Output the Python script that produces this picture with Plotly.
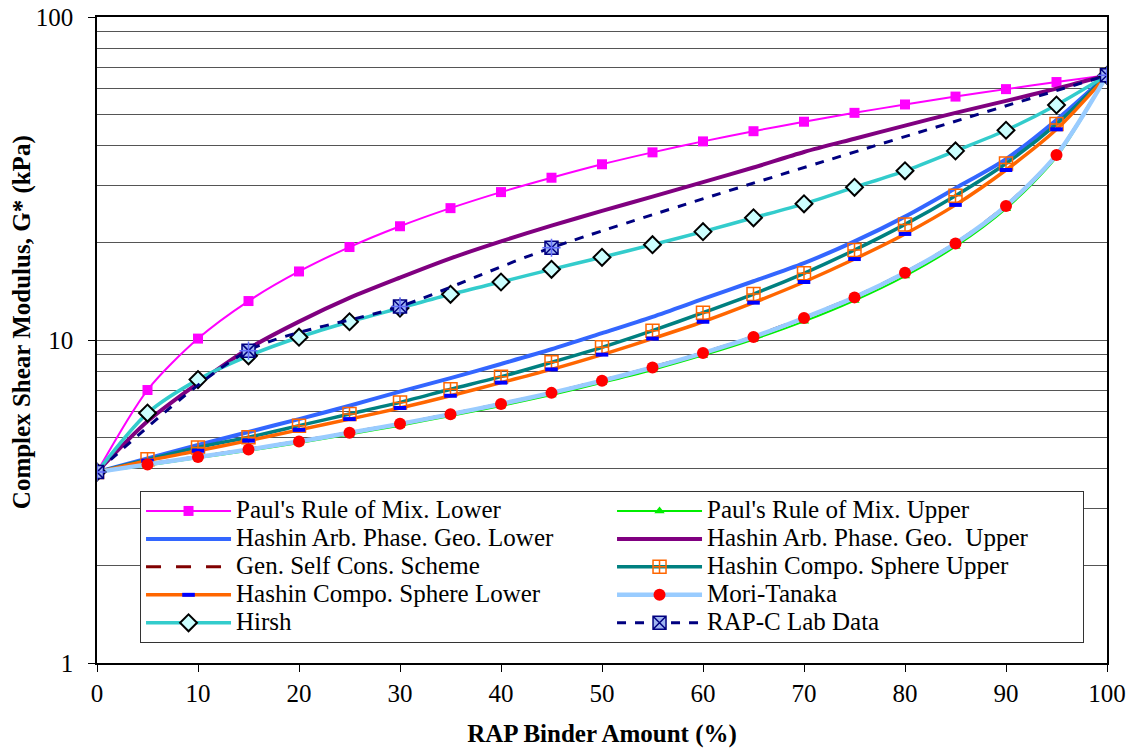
import plotly.graph_objects as go

# RAP binder content (%)
rap_pct = [0, 5, 10, 15, 20, 25, 30, 35, 40, 45, 50, 55, 60, 65, 70, 75, 80, 85, 90, 95, 100]

# Complex shear modulus G* (kPa) predicted by each micromechanical model
paul_lower = [3.9, 7.0, 10.1, 13.2, 16.3, 19.4, 22.5, 25.6, 28.7, 31.8, 35.0,
              38.1, 41.2, 44.3, 47.4, 50.5, 53.6, 56.7, 59.8, 62.9, 66.0]
paul_upper = [3.9, 4.09, 4.31, 4.54, 4.80, 5.10, 5.43, 5.82, 6.25, 6.76, 7.37,
              8.08, 8.96, 10.04, 11.42, 13.25, 15.77, 19.48, 25.5, 36.8, 66.0]
hashin_arb_lower = [3.9, 4.30, 4.73, 5.19, 5.69, 6.26, 6.92, 7.62, 8.43, 9.36, 10.5,
                    11.8, 13.4, 15.2, 17.3, 20.2, 24.1, 29.5, 36.3, 48.0, 66.0]
hashin_arb_upper = [3.9, 5.6, 7.35, 9.4, 11.4, 13.5, 15.6, 17.9, 20.2, 22.6, 25.1,
                    27.8, 30.8, 34.2, 38.2, 42.0, 46.1, 50.5, 55.0, 60.0, 66.0]
gen_self_cons = [3.9, 4.13, 4.35, 4.59, 4.86, 5.17, 5.51, 5.90, 6.35, 6.87, 7.50,
                 8.24, 9.13, 10.25, 11.73, 13.59, 16.2, 19.96, 26.1, 37.5, 66.0]
hashin_sphere_upper = [3.9, 4.27, 4.65, 5.00, 5.43, 5.90, 6.41, 7.04, 7.70, 8.53, 9.49,
                       10.69, 12.15, 13.88, 16.09, 18.99, 22.8, 27.98, 35.2, 46.6, 66.0]
hashin_sphere_lower = [3.9, 4.23, 4.54, 4.88, 5.27, 5.69, 6.16, 6.72, 7.38, 8.11, 9.01,
                       10.1, 11.39, 13.05, 15.12, 17.81, 21.3, 26.2, 33.6, 44.9, 66.0]
mori_tanaka = [3.9, 4.12, 4.34, 4.58, 4.85, 5.16, 5.50, 5.89, 6.34, 6.86, 7.48,
               8.22, 9.11, 10.22, 11.7, 13.55, 16.15, 19.9, 26.0, 37.4, 66.0]
hirsh = [3.9, 5.94, 7.54, 8.93, 10.2, 11.39, 12.56, 13.85, 15.12, 16.55, 18.03,
         19.73, 21.65, 23.9, 26.4, 29.7, 33.4, 38.5, 44.6, 53.4, 66.0]

# Laboratory measurements
lab_pct = [0, 15, 30, 45, 100]
lab_g = [3.9, 9.27, 12.7, 19.3, 66.0]

SERIF = "Liberation Serif, Times New Roman, Times, serif"
LEG = '<span style="font-size:25px">{}</span>'

fig = go.Figure()


def add(name, y, color, width, dash="solid", marker=None, x=rap_pct, showlegend=True):
    mode = "lines+markers" if marker else "lines"
    fig.add_trace(go.Scatter(
        x=x, y=y, name=LEG.format(name), mode=mode, showlegend=showlegend,
        line=dict(color=color, width=width, dash=dash, shape="spline", smoothing=0.8),
        marker=marker or {},
    ))


add("Paul's Rule of Mix. Lower", paul_lower, "#FF00FF", 2,
    marker=dict(symbol="square", size=10, color="#FF00FF"))
add("Paul's Rule of Mix. Upper", paul_upper, "#00EE00", 2,
    marker=dict(symbol="triangle-up", size=9, color="#00EE00"))
add("Hashin Arb. Phase. Geo. Lower", hashin_arb_lower, "#3366FF", 4)
add("Hashin Arb. Phase. Geo.  Upper", hashin_arb_upper, "#800080", 4)
add("Gen. Self Cons. Scheme", gen_self_cons, "#800000", 3, dash="longdash")
add("Hashin Compo. Sphere Upper", hashin_sphere_upper, "#008080", 3.5,
    marker=dict(symbol="square-cross-open", size=13, color="#FF6600",
                line=dict(width=1.5, color="#FF6600")))
add("Hashin Compo. Sphere Lower", hashin_sphere_lower, "#FF6600", 3.5,
    marker=dict(symbol="line-ew-open", size=9, color="#0000FF",
                line=dict(width=4, color="#0000FF")))
add("Mori-Tanaka", mori_tanaka, "#99CCFF", 4.5,
    marker=dict(symbol="circle", size=12, color="#FF0000"))
add("Hirsh", hirsh, "#33CCCC", 3.5,
    marker=dict(symbol="diamond", size=13, color="#CCFFFF",
                line=dict(width=2, color="#000000")))
add("RAP-C Lab Data", lab_g, "#000080", 3, dash="dash", x=lab_pct,
    marker=dict(symbol="square-x", size=13, color="#9FB4F0",
                line=dict(width=1.5, color="#000080")))
# inner cross of the lab-data symbol
fig.add_trace(go.Scatter(
    x=lab_pct, y=lab_g, mode="markers", showlegend=False, hoverinfo="skip",
    marker=dict(symbol="cross-thin-open", size=13, line=dict(width=1.5, color="#000080")),
))

grid_minor = [2, 3, 4, 5, 6, 7, 8, 9, 20, 30, 40, 50, 60, 70, 80, 90]

fig.update_layout(
    width=1133, height=749,
    margin=dict(l=97, r=26, t=17, b=86),
    paper_bgcolor="white", plot_bgcolor="white",
    font=dict(family=SERIF, color="black", size=25),
    xaxis=dict(
        range=[0, 100], tickmode="linear", tick0=0, dtick=10, automargin=False,
        ticks="outside", ticklen=7, tickcolor="black", tickwidth=1,
        showline=True, mirror=True, linecolor="black", linewidth=1.5,
        showgrid=False, zeroline=False,
        tickfont=dict(family=SERIF, size=25),
        title=dict(text="<b>RAP Binder Amount (%)</b>",
                   font=dict(family=SERIF, size=25), standoff=19),
    ),
    yaxis=dict(
        type="log", range=[0, 2], tickvals=[1, 10, 100], ticktext=["1", "10", "100"],
        automargin=False, ticklabelstandoff=10,
        ticks="outside", ticklen=7, tickcolor="black", tickwidth=1,
        showline=True, mirror=True, linecolor="black", linewidth=1.5,
        showgrid=True, gridcolor="#555555", gridwidth=1, zeroline=False,
        minor=dict(tickvals=grid_minor, showgrid=True, gridcolor="#555555",
                   gridwidth=1, ticks=""),
        tickfont=dict(family=SERIF, size=25),
    ),
    annotations=[dict(
        text="<b>Complex Shear Modulus, G* (kPa)</b>", textangle=-90,
        xref="paper", yref="paper", x=-0.074, y=0.528,
        xanchor="center", yanchor="middle", showarrow=False,
        font=dict(family=SERIF, size=25, color="black"),
    )],
    legend=dict(
        orientation="h", x=0.0426, y=0.2663, xanchor="left", yanchor="top",
        bgcolor="white", bordercolor="#333333", borderwidth=1,
        font=dict(family=SERIF, size=19.2), entrywidthmode="pixels", entrywidth=371,
        itemwidth=85, traceorder="normal", tracegroupgap=0,
    ),
    showlegend=True,
)

fig.write_html("out.html")
